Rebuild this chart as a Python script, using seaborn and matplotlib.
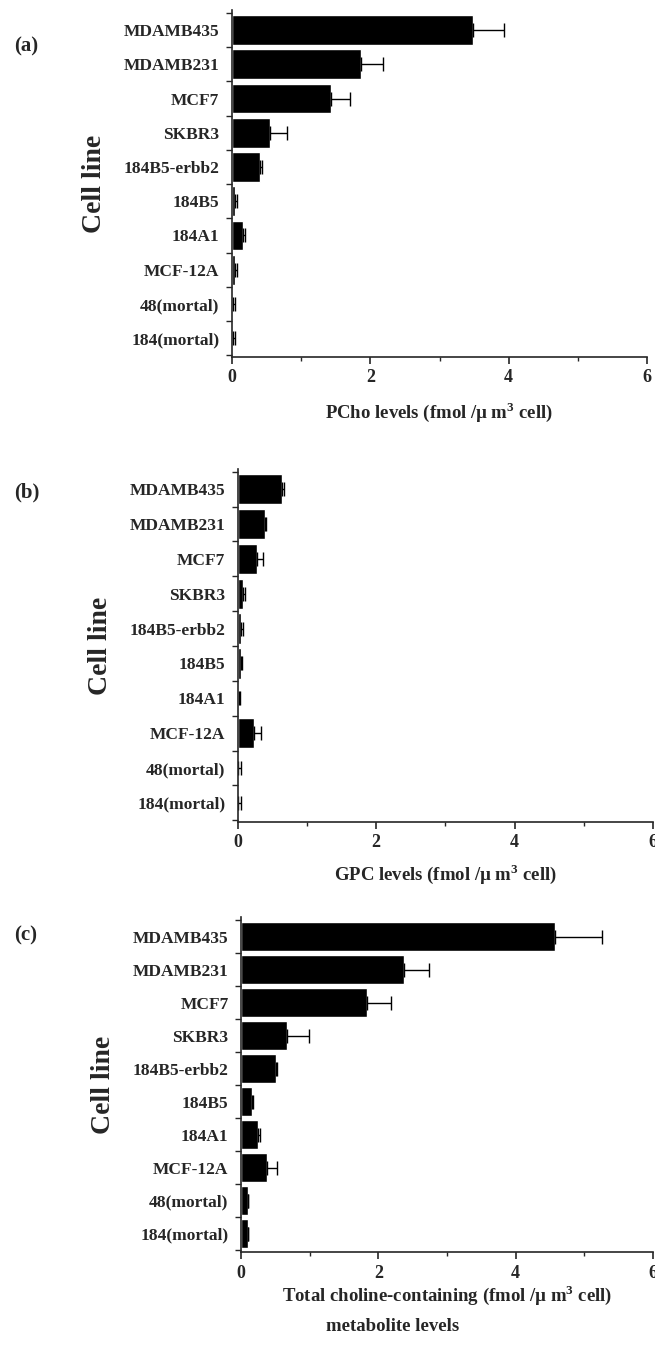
import numpy as np
import pandas as pd
import seaborn as sns
import matplotlib
matplotlib.use("Agg")
import matplotlib.pyplot as plt
from matplotlib.ticker import MultipleLocator, FixedLocator

cell_lines = ["MDAMB435", "MDAMB231", "MCF7", "SKBR3", "184B5-erbb2",
              "184B5", "184A1", "MCF-12A", "48(mortal)", "184(mortal)"]

pcho_mean = [3.49, 1.87, 1.43, 0.55, 0.41, 0.04, 0.16, 0.05, 0.01, 0.01]
pcho_sd = [0.44, 0.32, 0.27, 0.25, 0.02, 0.03, 0.03, 0.03, 0.03, 0.03]

gpc_mean = [0.64, 0.40, 0.28, 0.07, 0.05, 0.05, 0.02, 0.23, 0.01, 0.01]
gpc_sd = [0.03, 0.01, 0.08, 0.03, 0.02, 0.01, 0.01, 0.11, 0.04, 0.04]

total_mean = [4.57, 2.37, 1.83, 0.67, 0.51, 0.16, 0.25, 0.38, 0.10, 0.10]
total_sd = [0.68, 0.37, 0.35, 0.32, 0.01, 0.02, 0.03, 0.15, 0.00, 0.00]

panel_letters = ["(a)", "(b)", "(c)"]
xlabels = [r"PCho levels (fmol /µ m$^{\mathbf{3}}$ cell)",
           r"GPC levels (fmol /µ m$^{\mathbf{3}}$ cell)",
           r"Total choline-containing (fmol /µ m$^{\mathbf{3}}$ cell)"]

sns.set_style("ticks")
plt.rcParams['font.family'] = ['Liberation Serif', 'DejaVu Serif']
plt.rcParams['font.weight'] = 'bold'
plt.rcParams['mathtext.fontset'] = 'custom'
plt.rcParams['mathtext.bf'] = 'Liberation Serif:bold'
plt.rcParams['mathtext.rm'] = 'Liberation Serif:bold'

fig = plt.figure(figsize=(6.55, 13.49), dpi=100)

# axes rectangles in figure fractions (left, bottom, width, height)
rects = [(0.354, 0.7354, 0.634, 0.257),
         (0.363, 0.3907, 0.634, 0.2617),
         (0.368, 0.0719, 0.629, 0.248)]
letter_y = [0.962, 0.631, 0.303]
xlabel_pad = [10, 8, 1]

panels = [(pcho_mean, pcho_sd), (gpc_mean, gpc_sd), (total_mean, total_sd)]

for k, ((means, sds), rect) in enumerate(zip(panels, rects)):
    ax = fig.add_axes(rect)
    df = pd.DataFrame({"cell": cell_lines, "value": means})
    sns.barplot(data=df, x="value", y="cell", orient="h", color="black",
                saturation=1, width=0.87, errorbar=None, ax=ax)
    pos = np.arange(len(cell_lines))
    ax.errorbar(means, pos, xerr=[np.zeros(len(sds)), sds], fmt="none",
                ecolor="black", elinewidth=1.0, capsize=5, capthick=1.0)
    ax.set_xlim(0, 6)
    ax.set_ylim(9.55, -0.58)
    ax.xaxis.set_major_locator(MultipleLocator(2))
    ax.xaxis.set_minor_locator(MultipleLocator(1))
    ax.yaxis.set_minor_locator(FixedLocator(np.arange(-0.5, 10, 1)))
    ax.tick_params(axis="y", which="major", length=0, pad=9, labelsize=12.5)
    ax.tick_params(axis="y", which="minor", length=4, width=1, direction="out")
    ax.tick_params(axis="x", which="major", length=5, width=1.2, labelsize=13, pad=4)
    ax.tick_params(axis="x", which="minor", length=3, width=1)
    for lab in ax.get_xticklabels() + ax.get_yticklabels():
        lab.set_fontweight("bold")
    for s in ["top", "right"]:
        ax.spines[s].set_visible(False)
    for s in ["left", "bottom"]:
        ax.spines[s].set_linewidth(1.2)
    ax.set_ylabel("Cell line", fontsize=20, fontweight="bold", labelpad=12)
    ax.set_xlabel(xlabels[k], fontsize=13.5, fontweight="bold",
                  labelpad=xlabel_pad[k])
    fig.text(0.022, letter_y[k], panel_letters[k], fontsize=15, fontweight="bold")

# second line of panel (c) x label
fig.text(0.600, 0.017, "metabolite levels", fontsize=13.5, fontweight="bold",
         ha="center", va="center")

fig.savefig("out.png", dpi=100, facecolor="white")
